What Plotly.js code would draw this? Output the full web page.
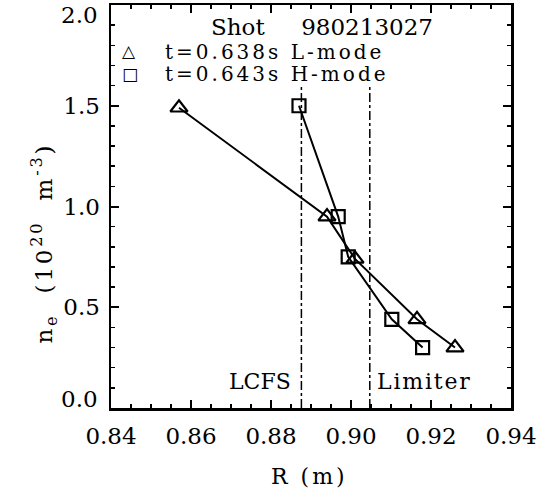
<!DOCTYPE html>
<html>
<head>
<meta charset="utf-8">
<script src="https://cdn.plot.ly/plotly-3.0.1.min.js"></script>
<style>html,body{margin:0;padding:0;background:#fff;}#chart{width:540px;height:490px;}</style>
</head>
<body>
<div id="chart"></div>
<script>
// L-mode, t=0.638s
const rL = [0.857, 0.894, 0.901, 0.9165, 0.926];
const neL = [1.49, 0.95, 0.74, 0.44, 0.30];
// H-mode, t=0.643s
const rH = [0.887, 0.8968, 0.8993, 0.9102, 0.9179];
const neH = [1.50, 0.95, 0.75, 0.44, 0.30];
const lcfsR = 0.8876;
const limiterR = 0.9047;
const xTicks = [0.84, 0.86, 0.88, 0.90, 0.92, 0.94];
const yTicks = [0.0, 0.5, 1.0, 1.5, 2.0];
const shotLabel = "Shot     980213027";
const seriesLabels = ["t=0.638s L-mode", "t=0.643s H-mode"];
const xTitle = "R (m)";
const yTitle = "n<sub>e</sub> (10<sup>20</sup> m<sup>-3</sup>)";

const F = "DejaVu Serif, serif";
const K = "#000";
function sp(t, px) { return '<span style="letter-spacing:' + px + 'px">' + t + '</span>'; }
const nb = s => s.replace(/ /g, "&nbsp;");

const traces = [
  {x: rL, y: neL, mode: "lines+markers", line: {color: K, width: 2},
   marker: {symbol: "triangle-up-open", size: 15, color: K, line: {width: 2.2, color: K}}, showlegend: false},
  {x: rH, y: neH, mode: "lines+markers", line: {color: K, width: 2},
   marker: {symbol: "square-open", size: 13, color: K, line: {width: 2.2, color: K}}, showlegend: false}
];
const axBase = {
  showgrid: false, zeroline: false, showline: true, linecolor: K, linewidth: 2.5,
  mirror: "ticks", ticks: "inside", ticklen: 8, tickwidth: 2, tickcolor: K,
  tickfont: {family: F, size: 23, color: K}
};
// end labels of the y axis are drawn nudged inward (as in the original), so blank them in ticktext
const yEndLabels = [yTicks[0], yTicks[yTicks.length - 1]];
const layout = {
  width: 540, height: 490,
  margin: {l: 111, r: 29, t: 5, b: 82},
  paper_bgcolor: "#fff", plot_bgcolor: "#fff",
  font: {family: F, color: K},
  xaxis: Object.assign({}, axBase, {
    range: [0.84, 0.94], tickvals: xTicks, ticktext: xTicks.map(v => v.toFixed(2)),
    ticklabelstandoff: 6, ticklabeloverflow: "allow",
    minor: {dtick: 0.005, ticks: "inside", ticklen: 4, tickwidth: 1.5, tickcolor: K}
  }),
  yaxis: Object.assign({}, axBase, {
    range: [0, 2.0], tickvals: yTicks,
    ticktext: yTicks.map(v => yEndLabels.includes(v) ? "" : v.toFixed(1)),
    ticklabelstandoff: 4,
    minor: {dtick: 0.1, ticks: "inside", ticklen: 4, tickwidth: 1.5, tickcolor: K}
  }),
  shapes: [
    {type: "line", xref: "x", yref: "y", x0: lcfsR, x1: lcfsR, y0: 0, y1: 1.6, line: {color: K, width: 1.5, dash: "dashdot"}},
    {type: "line", xref: "x", yref: "y", x0: limiterR, x1: limiterR, y0: 0, y1: 1.6, line: {color: K, width: 1.5, dash: "dashdot"}}
  ],
  annotations: [
    {xref: "paper", yref: "paper", x: -0.027, y: 1, xanchor: "right", yanchor: "middle", yshift: -10, showarrow: false,
     text: yEndLabels[1].toFixed(1), font: {family: F, size: 23, color: K}},
    {xref: "paper", yref: "paper", x: -0.027, y: 0, xanchor: "right", yanchor: "middle", yshift: 9, showarrow: false,
     text: yEndLabels[0].toFixed(1), font: {family: F, size: 23, color: K}},
    {xref: "paper", yref: "paper", x: 0.245, y: 0.946, xanchor: "left", yanchor: "middle", showarrow: false,
     text: nb(shotLabel), font: {family: F, size: 23, color: K}},
    {xref: "paper", yref: "paper", x: 0.022, y: 0.885, xanchor: "left", yanchor: "middle", showarrow: false,
     text: "<b>△</b>", font: {family: "DejaVu Sans", size: 17, color: K}},
    {xref: "paper", yref: "paper", x: 0.022, y: 0.830, xanchor: "left", yanchor: "middle", showarrow: false,
     text: "<b>□</b>", font: {family: "DejaVu Sans", size: 17, color: K}},
    {xref: "paper", yref: "paper", x: 0.13, y: 0.883, xanchor: "left", yanchor: "middle", showarrow: false,
     text: sp(nb(seriesLabels[0]), 3.0), font: {family: F, size: 20, color: K}},
    {xref: "paper", yref: "paper", x: 0.13, y: 0.830, xanchor: "left", yanchor: "middle", showarrow: false,
     text: sp(nb(seriesLabels[1]), 3.0), font: {family: F, size: 20, color: K}},
    {xref: "x", yref: "y", x: lcfsR - 0.0022, y: 0.134, xanchor: "right", yanchor: "middle", showarrow: false,
     text: "LCFS", font: {family: F, size: 22, color: K}},
    {xref: "x", yref: "y", x: limiterR + 0.0013, y: 0.134, xanchor: "left", yanchor: "middle", showarrow: false,
     text: sp("Limiter", 1.8), font: {family: F, size: 22, color: K}},
    {xref: "paper", yref: "paper", x: 0.495, y: -0.17, xanchor: "center", yanchor: "middle", showarrow: false,
     text: sp(nb(xTitle), 3), font: {family: F, size: 22, color: K}},
    {xref: "paper", yref: "paper", x: -0.168, y: 0.41, xanchor: "center", yanchor: "middle", showarrow: false,
     textangle: -90, text: sp(nb(yTitle).replace(/&nbsp;/g, "&nbsp;&nbsp;"), 2.8), font: {family: F, size: 23, color: K}}
  ]
};
Plotly.newPlot("chart", traces, layout, {staticPlot: true, displayModeBar: false});
</script>
</body>
</html>
